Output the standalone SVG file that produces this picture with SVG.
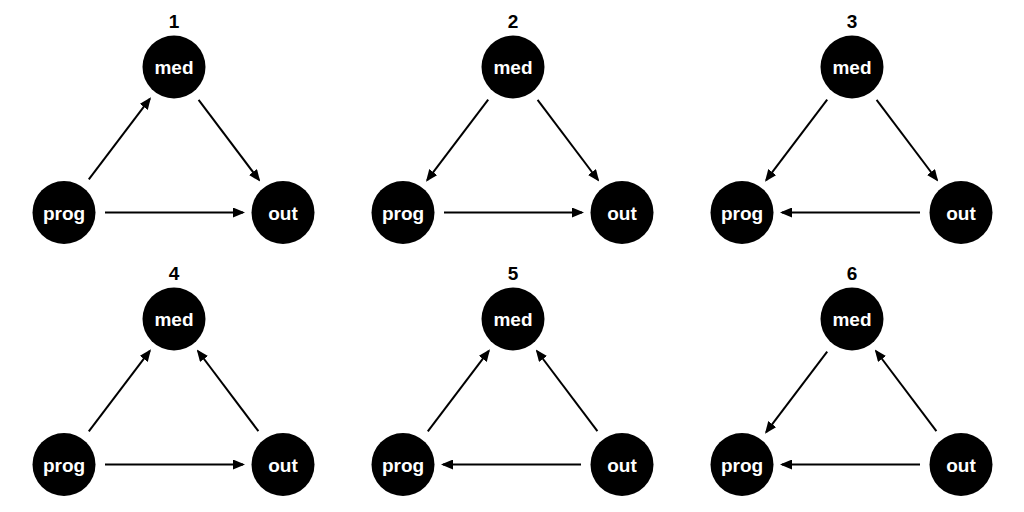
<svg xmlns="http://www.w3.org/2000/svg" width="1024" height="512" viewBox="0 0 1024 512">
<style>
.n{fill:#000}
.l{fill:#fff;font-family:"Liberation Sans",Arial,sans-serif;font-weight:bold;font-size:19px;text-anchor:middle}
.t{fill:#000;font-family:"Liberation Sans",Arial,sans-serif;font-weight:bold;font-size:19px;text-anchor:middle}
.e{stroke:#000;stroke-width:2;fill:none;marker-end:url(#ah)}
</style>
<defs>
<marker id="ah" markerUnits="userSpaceOnUse" viewBox="0 0 12 10" markerWidth="12" markerHeight="10" refX="10" refY="5" orient="auto"><path d="M0,0 L12,5 L0,10 z" fill="#000"/></marker>
</defs>
<rect width="1024" height="512" fill="#fff"/>
<!-- Panel 1 -->
<g id="panel1">
<text class="t" x="174" y="28">1</text>
<g id="p1-med"><circle class="n" cx="174" cy="67" r="31.5"/><text class="l" x="174" y="74">med</text></g>
<g id="p1-prog"><circle class="n" cx="64" cy="212.5" r="31.5"/><text class="l" x="64" y="219.5">prog</text></g>
<g id="p1-out"><circle class="n" cx="283" cy="212.5" r="31.5"/><text class="l" x="283" y="219.5">out</text></g>
<g id="p1-edges">
<line class="e" x1="88.8" y1="179.3" x2="149.8" y2="98.9"/>
<line class="e" x1="198.6" y1="99.8" x2="259" y2="180"/>
<line class="e" x1="105" y1="212.5" x2="243" y2="212.5"/>
</g>
</g>
<!-- Panel 2 -->
<g id="panel2" transform="translate(339,0)">
<text class="t" x="174" y="28">2</text>
<g id="p2-med"><circle class="n" cx="174" cy="67" r="31.5"/><text class="l" x="174" y="74">med</text></g>
<g id="p2-prog"><circle class="n" cx="64" cy="212.5" r="31.5"/><text class="l" x="64" y="219.5">prog</text></g>
<g id="p2-out"><circle class="n" cx="283" cy="212.5" r="31.5"/><text class="l" x="283" y="219.5">out</text></g>
<g id="p2-edges">
<line class="e" x1="149.2" y1="99.7" x2="88.2" y2="180.1"/>
<line class="e" x1="198.6" y1="99.8" x2="259" y2="180"/>
<line class="e" x1="105" y1="212.5" x2="243" y2="212.5"/>
</g>
</g>
<!-- Panel 3 -->
<g id="panel3" transform="translate(678,0)">
<text class="t" x="174" y="28">3</text>
<g id="p3-med"><circle class="n" cx="174" cy="67" r="31.5"/><text class="l" x="174" y="74">med</text></g>
<g id="p3-prog"><circle class="n" cx="64" cy="212.5" r="31.5"/><text class="l" x="64" y="219.5">prog</text></g>
<g id="p3-out"><circle class="n" cx="283" cy="212.5" r="31.5"/><text class="l" x="283" y="219.5">out</text></g>
<g id="p3-edges">
<line class="e" x1="149.2" y1="99.7" x2="88.2" y2="180.1"/>
<line class="e" x1="198.6" y1="99.8" x2="259" y2="180"/>
<line class="e" x1="242" y1="212.5" x2="104" y2="212.5"/>
</g>
</g>
<!-- Panel 4 -->
<g id="panel4" transform="translate(0,252)">
<text class="t" x="174" y="28">4</text>
<g id="p4-med"><circle class="n" cx="174" cy="67" r="31.5"/><text class="l" x="174" y="74">med</text></g>
<g id="p4-prog"><circle class="n" cx="64" cy="212.5" r="31.5"/><text class="l" x="64" y="219.5">prog</text></g>
<g id="p4-out"><circle class="n" cx="283" cy="212.5" r="31.5"/><text class="l" x="283" y="219.5">out</text></g>
<g id="p4-edges">
<line class="e" x1="88.8" y1="179.3" x2="149.8" y2="98.9"/>
<line class="e" x1="258.4" y1="179.2" x2="198" y2="99"/>
<line class="e" x1="105" y1="212.5" x2="243" y2="212.5"/>
</g>
</g>
<!-- Panel 5 -->
<g id="panel5" transform="translate(339,252)">
<text class="t" x="174" y="28">5</text>
<g id="p5-med"><circle class="n" cx="174" cy="67" r="31.5"/><text class="l" x="174" y="74">med</text></g>
<g id="p5-prog"><circle class="n" cx="64" cy="212.5" r="31.5"/><text class="l" x="64" y="219.5">prog</text></g>
<g id="p5-out"><circle class="n" cx="283" cy="212.5" r="31.5"/><text class="l" x="283" y="219.5">out</text></g>
<g id="p5-edges">
<line class="e" x1="88.8" y1="179.3" x2="149.8" y2="98.9"/>
<line class="e" x1="258.4" y1="179.2" x2="198" y2="99"/>
<line class="e" x1="242" y1="212.5" x2="104" y2="212.5"/>
</g>
</g>
<!-- Panel 6 -->
<g id="panel6" transform="translate(678,252)">
<text class="t" x="174" y="28">6</text>
<g id="p6-med"><circle class="n" cx="174" cy="67" r="31.5"/><text class="l" x="174" y="74">med</text></g>
<g id="p6-prog"><circle class="n" cx="64" cy="212.5" r="31.5"/><text class="l" x="64" y="219.5">prog</text></g>
<g id="p6-out"><circle class="n" cx="283" cy="212.5" r="31.5"/><text class="l" x="283" y="219.5">out</text></g>
<g id="p6-edges">
<line class="e" x1="149.2" y1="99.7" x2="88.2" y2="180.1"/>
<line class="e" x1="258.4" y1="179.2" x2="198" y2="99"/>
<line class="e" x1="242" y1="212.5" x2="104" y2="212.5"/>
</g>
</g>
</svg>
